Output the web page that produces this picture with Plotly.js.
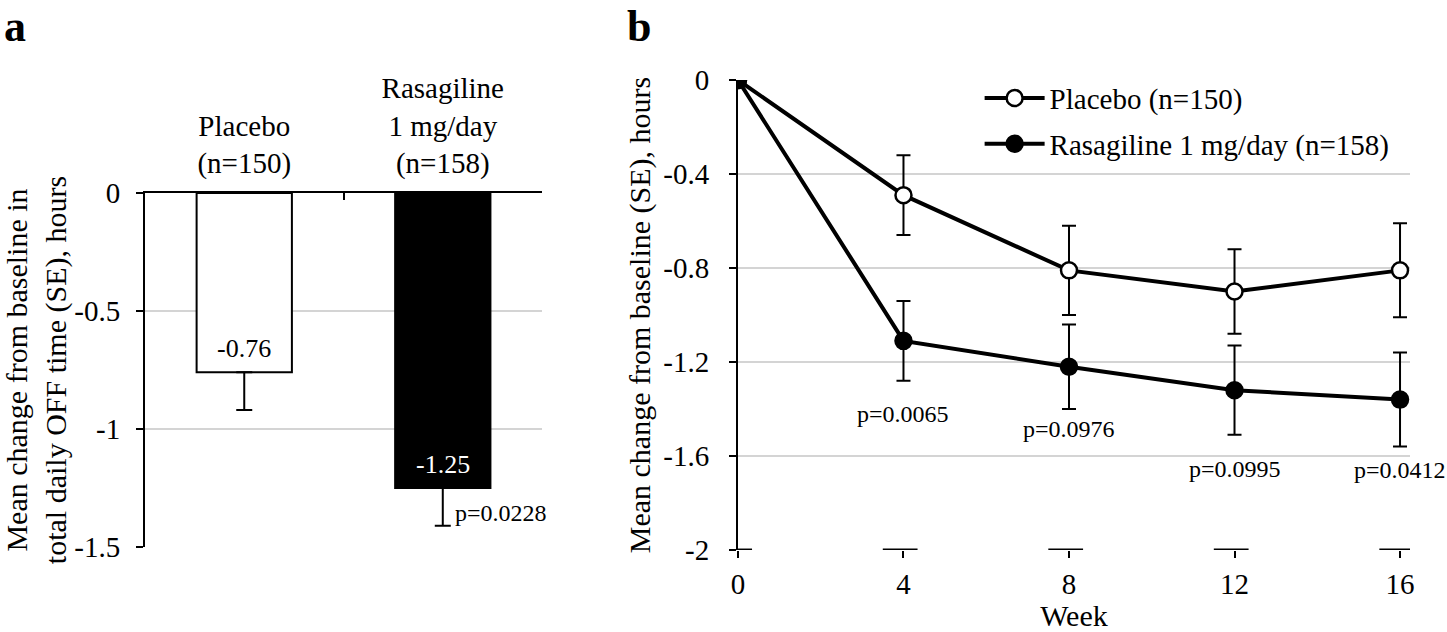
<!DOCTYPE html>
<html><head><meta charset="utf-8">
<script src="https://cdn.plot.ly/plotly-3.0.1.min.js"></script>
<style>html,body{margin:0;padding:0;background:#fff}</style>
</head><body><div id="chart" style="width:1447px;height:632px"></div>
<script>
// ---- Panel a data ----
const barCategories = ['Placebo<br>(n=150)', 'Rasagiline<br>1 mg/day<br>(n=158)'];
const barValues = [-0.76, -1.25];
const barSE = [0.16, 0.16];
const barLabels = ['-0.76', '-1.25'];
const barLabelColors = ['#000000', '#ffffff'];
const barPText = 'p=0.0228';
const aTickVals = [0, -0.5, -1, -1.5];
const aTickText = ['0', '-0.5', '-1', '-1.5'];

// ---- Panel b data ----
const weeks = [0, 4, 8, 12, 16];
const placeboMean = [0, -0.49, -0.81, -0.90, -0.81];
const placeboSE = [0, 0.17, 0.19, 0.18, 0.20];
const rasaMean = [0, -1.11, -1.22, -1.32, -1.36];
const rasaSE = [0, 0.17, 0.18, 0.19, 0.20];
const pWeeks = [4, 8, 12, 16];
const pValues = ['p=0.0065', 'p=0.0976', 'p=0.0995', 'p=0.0412'];
const pLabelY = [-1.42, -1.485, -1.655, -1.66];
const bTickVals = [0, -0.4, -0.8, -1.2, -1.6, -2];
const bTickText = ['0', '-0.4', '-0.8', '-1.2', '-1.6', '-2'];
const weekTicks = [0, 4, 8, 12, 16];

const FONT = 'Liberation Serif, Times New Roman, serif';
const GRID = '#d4d4d4';
const TICK = 29;

const traces = [];
traces.push({
  type: 'bar', x: barCategories, y: barValues, xaxis: 'x', yaxis: 'y',
  marker: {color: ['#ffffff', '#000000'], line: {color: '#000', width: 2}},
  width: 0.48,
  error_y: {type: 'data', symmetric: false, array: [0, 0], arrayminus: barSE,
            color: '#000', thickness: 2, width: 8},
  showlegend: false, hoverinfo: 'skip'
});

traces.push({
  type: 'scatter', mode: 'lines+markers', name: 'Placebo (n=150)',
  x: weeks, y: placeboMean, xaxis: 'x2', yaxis: 'y2', legendgroup: 'p',
  line: {color: '#000', width: 4},
  marker: {symbol: 'circle', size: 16, color: '#fff', line: {color: '#000', width: 2.5}},
  error_y: {type: 'data', array: placeboSE, color: '#000', thickness: 2, width: 7}
});
traces.push({
  type: 'scatter', mode: 'lines+markers', name: 'Rasagiline 1 mg/day (n=158)',
  x: weeks, y: rasaMean, xaxis: 'x2', yaxis: 'y2', legendgroup: 'r',
  line: {color: '#000', width: 4},
  marker: {symbol: 'circle', size: 16, color: '#000', line: {color: '#000', width: 2.5}},
  error_y: {type: 'data', array: rasaSE, color: '#000', thickness: 2, width: 7}
});

// short black axis segments around the week ticks on the bottom gridline
const yBottom = bTickVals[bTickVals.length - 1];
const segX = [], segY = [];
weekTicks.forEach(t => {
  segX.push(Math.max(t - 0.5, weekTicks[0]), t + 0.34, null);
  segY.push(yBottom, yBottom, null);
});
traces.push({type: 'scatter', mode: 'lines', x: segX, y: segY, xaxis: 'x2', yaxis: 'y2',
  line: {color: '#000', width: 3}, showlegend: false, hoverinfo: 'skip', cliponaxis: false});

const annotations = [
  {text: '<b>a</b>', xref: 'paper', yref: 'paper', x: 0, y: 1, xanchor: 'left', yanchor: 'top',
   xshift: 2, showarrow: false, font: {family: FONT, size: 44, color: '#000'}},
  {text: '<b>b</b>', xref: 'paper', yref: 'paper', x: 0.432, y: 1, xanchor: 'left', yanchor: 'top',
   showarrow: false, font: {family: FONT, size: 44, color: '#000'}},
  {text: barPText, xref: 'x', yref: 'y', x: barCategories[1], y: barValues[1] - 0.105,
   xanchor: 'left', yanchor: 'middle', xshift: 10, showarrow: false,
   font: {family: FONT, size: 24, color: '#000'}}
];
barCategories.forEach((c, i) => annotations.push({
  text: barLabels[i], xref: 'x', yref: 'y', x: c, y: barValues[i], showarrow: false,
  xanchor: 'center', yanchor: 'bottom', yshift: 7,
  font: {family: FONT, size: 26, color: barLabelColors[i]}
}));
pWeeks.forEach((w, i) => annotations.push({
  text: pValues[i], xref: 'x2', yref: 'y2', x: w, y: pLabelY[i], showarrow: false,
  xanchor: 'center', yanchor: 'middle', font: {family: FONT, size: 24, color: '#000'}
}));

const layout = {
  width: 1447, height: 632,
  margin: {l: 0, r: 0, t: 0, b: 0},
  paper_bgcolor: '#fff', plot_bgcolor: '#fff',
  font: {family: FONT, color: '#000', size: TICK},
  xaxis: {
    domain: [0.1002, 0.3746], anchor: 'y', side: 'top', type: 'category',
    range: [-0.5, 1.5], autorange: false,
    showline: true, linecolor: '#000', linewidth: 2,
    ticks: 'inside', tickson: 'boundaries', ticklen: 7, tickwidth: 2, tickcolor: '#000',
    tickfont: {family: FONT, size: TICK, color: '#000'}, showgrid: false, zeroline: false,
    ticklabelstandoff: 6
  },
  yaxis: {
    domain: [0.1345, 0.6946], anchor: 'x', range: [-1.5, 0],
    tickvals: aTickVals, ticktext: aTickText,
    showline: true, linecolor: '#000', linewidth: 2,
    ticks: 'outside', ticklen: 7, tickwidth: 2, tickcolor: '#000',
    showgrid: true, gridcolor: GRID, gridwidth: 2, zeroline: false,
    tickfont: {family: FONT, size: TICK, color: '#000'}, ticklabelstandoff: 10,
    title: {text: 'Mean change from baseline in<br>total daily OFF time (SE), hours',
            font: {family: FONT, size: 30, color: '#000'}, standoff: 12}
  },
  xaxis2: {
    domain: [0.510, 0.9744], anchor: 'y2', range: [0, 16.24],
    tickvals: weekTicks, ticktext: weekTicks.map(String),
    showline: false, ticks: 'outside', ticklen: 7, tickwidth: 2, tickcolor: '#000',
    showgrid: false, zeroline: false,
    tickfont: {family: FONT, size: TICK, color: '#000'}, ticklabelstandoff: 1,
    title: {text: 'Week', font: {family: FONT, size: 30, color: '#000'}, standoff: 6}
  },
  yaxis2: {
    domain: [0.1297, 0.8734], anchor: 'x2', range: [-2, 0],
    tickvals: bTickVals, ticktext: bTickText,
    showline: true, linecolor: '#000', linewidth: 2,
    ticks: 'outside', ticklen: 7, tickwidth: 2, tickcolor: '#000',
    showgrid: true, gridcolor: GRID, gridwidth: 2, zeroline: false,
    tickfont: {family: FONT, size: TICK, color: '#000'}, ticklabelstandoff: 14,
    title: {text: 'Mean change from baseline (SE), hours',
            font: {family: FONT, size: 30, color: '#000'}, standoff: 4}
  },
  legend: {
    x: 0.677, y: 0.885, xanchor: 'left', yanchor: 'top',
    bgcolor: 'rgba(255,255,255,0)', font: {family: FONT, size: 29, color: '#000'},
    traceorder: 'grouped', tracegroupgap: 5, itemwidth: 60
  },
  annotations: annotations,
  showlegend: true
};

Plotly.newPlot('chart', traces, layout, {displayModeBar: false, staticPlot: true});
</script></body></html>
